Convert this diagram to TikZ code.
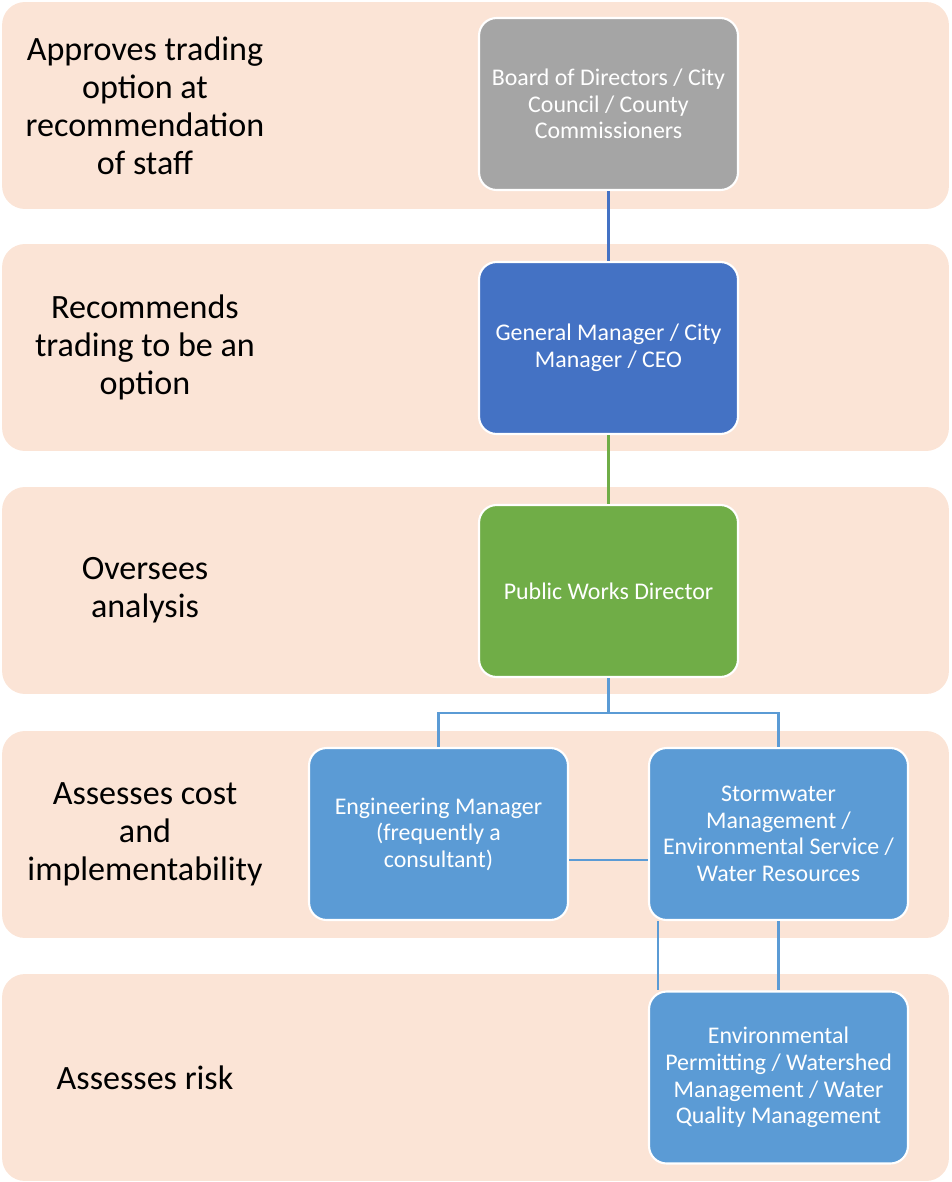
\documentclass[tikz,border=0pt]{standalone}
\usepackage{fontspec}
\setmainfont{Carlito}
\usetikzlibrary{positioning,calc}
\definecolor{BandPeach}{RGB}{251,228,214}
\definecolor{BoardGray}{RGB}{165,165,165}
\definecolor{ManagerBlue}{RGB}{68,114,196}
\definecolor{WorksGreen}{RGB}{112,173,71}
\definecolor{StaffBlue}{RGB}{91,155,213}
\tikzset{
	band/.style={fill=BandPeach,rounded corners=13pt,minimum width=18.94cm,minimum height=4.14cm,inner sep=0pt},
	tag/.style={align=center,font=\fontsize{19.4}{21.6}\selectfont},
	role/.style={draw=white,line width=1.2pt,rounded corners=10pt,minimum width=5.18cm,minimum height=3.44cm,
		inner sep=2pt,align=center,text=white,font=\fontsize{13.6}{15.1}\selectfont},
	link/.style={line width=1.3pt},
}
\begin{document}
\begin{tikzpicture}[x=0.02cm,y=-0.02cm]
			\useasboundingbox (0,0) rectangle (951,1182);
			% the five levels
			\node[band] (b1) at (475.5,105.5) {};
			\node[band] (b2) at (475.5,347.5) {};
			\node[band] (b3) at (475.5,590.5) {};
			\node[band] (b4) at (475.5,834.5) {};
			\node[band] (b5) at (475.5,1077.5) {};
			\node[tag] (t1) at (145,105.5) {Approves trading\\option at\\recommendation\\of staff};
			\node[tag] (t2) at (145,347.5) {Recommends\\trading to be an\\option};
			\node[tag] (t3) at (145,590.5) {Oversees\\analysis};
			\node[tag] (t4) at (145,834.5) {Assesses cost\\and\\implementability};
			\node[tag] (t5) at (145,1077.5) {Assesses risk};
			% roles
			\node[role,fill=BoardGray] (board) at (608.5,104) {Board of Directors / City\\Council / County\\Commissioners};
			\node[role,fill=ManagerBlue] (gm) at (608.5,348) {General Manager / City\\Manager / CEO};
			\node[role,fill=WorksGreen] (pw) at (608.5,591) {Public Works Director};
			\node[role,fill=StaffBlue] (eng) at (438.5,834) {Engineering Manager\\(frequently a\\consultant)};
			\node[role,fill=StaffBlue] (storm) at (778.5,834) {Stormwater\\Management /\\Environmental Service /\\Water Resources};
			\node[role,fill=StaffBlue] (env) at (778.5,1077.5) {Environmental\\Permitting / Watershed\\Management / Water\\Quality Management};
			\coordinate (fork) at (608.5,713);
			\draw[link,ManagerBlue] (board) -- (gm);
			\draw[link,WorksGreen] (gm) -- (pw);
			\draw[link,StaffBlue] (pw.south) -- (fork) -| (eng.north);
			\draw[link,StaffBlue] (fork) -| (storm.north);
			\draw[link,StaffBlue] ([yshift=-0.52cm]eng.east) -- ([yshift=-0.52cm]storm.west);
			\draw[link,StaffBlue] (storm.south) -- (env.north);
			\draw[link,StaffBlue] ([xshift=0.2cm]storm.south west) -- ([xshift=0.2cm]env.north west);
		\end{tikzpicture}
\end{document}
